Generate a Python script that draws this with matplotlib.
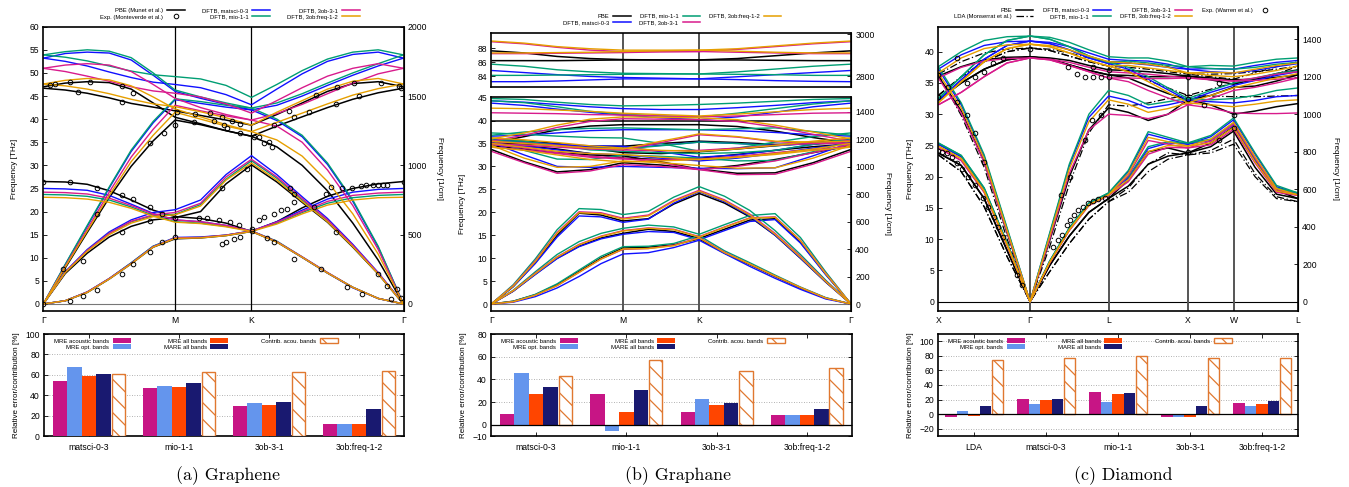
import numpy as np
import matplotlib
matplotlib.use("Agg")
import matplotlib.pyplot as plt
from matplotlib.lines import Line2D
from matplotlib.patches import Patch

plt.rcParams['font.family'] = ['Liberation Sans', 'DejaVu Sans']
plt.rcParams['hatch.linewidth'] = 0.9

W, H = 1349, 487
fig = plt.figure(figsize=(W / 100, H / 100), dpi=100)


def rect(x0, y0, x1, y1):
    """pixel box (left, top, right, bottom) -> figure fraction rect"""
    return [x0 / W, 1 - y1 / H, (x1 - x0) / W, (y1 - y0) / H]


def fx(x):
    return x / W


def fy(y):
    return 1 - y / H


C_PBE = 'black'
C_MATSCI = '#1010ff'
C_MIO = '#009e73'
C_3OB = '#d81b8c'
C_FREQ = '#e69f00'
C_ACOU = '#c71585'
C_OPT = '#6495ed'
C_ALL = '#ff4500'
C_MARE = '#191970'
C_HATCH = '#e07830'
HATCH = '\\\\'
THZ2CM = 33.356
TICK_FS = 6.2
LEG_FS = 4.2

# ---------------------------------------------------------------- graphene
gr_nodes = [0.0, 0.366, 0.578, 1.0]
gr_labels = ['Γ', 'M', 'K', 'Γ']

gr_pbe = [
    [0, 0.7, 2.5, 5.4, 8.7, 12.3, 14.1, 14.3, 14.8, 15.7, 13.4, 10.1, 6.7, 3.6, 1.2, 0],
    [0, 6.6, 11.0, 14.5, 16.8, 18.2, 18.7, 20.0, 26.0, 30.1, 26.4, 22.0, 17.7, 12.3, 6.5, 0],
    [26.5, 26.4, 25.9, 24.5, 22.5, 20.3, 18.9, 18.5, 17.5, 15.7, 17.8, 20.8, 23.3, 25.0, 26.0, 26.5],
    [0, 7.8, 15.5, 23.0, 29.8, 35.3, 39.8, 38.8, 37.5, 36.3, 34.0, 30.0, 24.5, 17.5, 9.5, 0],
    [47.0, 47.8, 48.1, 47.9, 46.5, 43.5, 40.4, 39.0, 37.5, 36.3, 38.5, 40.5, 42.5, 44.3, 45.7, 46.7],
    [46.7, 46.3, 45.6, 44.6, 43.4, 42.6, 41.8, 40.8, 39.8, 38.7, 41.0, 43.5, 46.0, 47.7, 48.1, 47.0],
]
gr_matsci = [
    [0, 0.7, 2.6, 5.5, 8.9, 12.5, 14.4, 14.5, 14.9, 15.8, 13.5, 10.1, 6.7, 3.5, 1.2, 0],
    [0, 7.0, 11.8, 15.6, 18.2, 19.8, 20.4, 22.5, 28.0, 32.1, 28.0, 23.2, 18.5, 12.9, 6.8, 0],
    [25.0, 24.9, 24.6, 23.5, 21.6, 19.6, 18.2, 17.8, 17.0, 15.8, 17.8, 20.3, 22.7, 24.2, 24.8, 25.0],
    [0, 8.5, 16.8, 25.1, 33.0, 39.2, 44.2, 43.4, 42.6, 42.0, 39.7, 36.2, 30.2, 22.2, 12.3, 0],
    [53.2, 54.2, 54.5, 54.3, 52.8, 49.5, 46.0, 44.5, 43.2, 42.0, 43.0, 45.0, 47.3, 49.5, 51.5, 53.2],
    [53.2, 52.5, 51.5, 50.2, 49.0, 48.0, 47.5, 46.8, 45.3, 43.1, 46.5, 49.8, 52.5, 54.0, 54.5, 53.2],
]
gr_mio = [
    [0, 0.7, 2.6, 5.5, 8.9, 12.5, 14.3, 14.4, 14.9, 15.8, 13.6, 10.2, 6.8, 3.6, 1.2, 0],
    [0, 6.9, 11.6, 15.3, 17.8, 19.1, 19.4, 21.5, 27.0, 31.0, 27.2, 22.5, 18.0, 12.5, 6.6, 0],
    [23.7, 23.6, 23.3, 22.5, 21.0, 19.2, 17.8, 17.5, 16.8, 15.8, 17.5, 19.8, 21.8, 23.0, 23.5, 23.7],
    [0, 8.6, 17.0, 25.3, 33.3, 39.5, 44.4, 43.8, 43.0, 42.4, 40.0, 36.5, 30.5, 22.5, 12.5, 0],
    [53.9, 54.6, 55.0, 54.7, 53.3, 50.0, 46.3, 44.8, 43.5, 42.4, 43.5, 45.5, 47.8, 50.0, 52.0, 53.9],
    [53.9, 53.4, 52.6, 51.5, 50.4, 49.6, 49.2, 48.7, 47.3, 44.7, 47.5, 50.5, 53.0, 54.5, 55.0, 53.9],
]
gr_3ob = [
    [0, 0.7, 2.6, 5.5, 8.8, 12.4, 14.3, 14.4, 14.9, 15.8, 13.5, 10.2, 6.8, 3.6, 1.2, 0],
    [0, 6.9, 11.6, 15.3, 17.9, 19.3, 19.8, 21.8, 27.5, 31.3, 27.5, 22.8, 18.2, 12.7, 6.7, 0],
    [24.2, 24.1, 23.8, 22.9, 21.3, 19.5, 18.2, 17.8, 17.0, 15.8, 17.7, 20.0, 22.2, 23.5, 24.0, 24.2],
    [0, 8.2, 16.2, 24.2, 31.8, 37.8, 43.0, 41.8, 40.7, 39.8, 38.5, 35.0, 29.0, 21.3, 11.8, 0],
    [51.0, 51.7, 52.0, 51.7, 50.3, 47.5, 44.5, 42.5, 41.0, 39.8, 41.2, 43.2, 45.5, 47.8, 49.8, 51.0],
    [51.0, 50.3, 49.3, 48.2, 47.0, 46.1, 45.6, 44.8, 43.3, 41.3, 44.0, 46.8, 49.3, 51.0, 52.0, 51.0],
]
gr_freq = [
    [0, 0.7, 2.5, 5.4, 8.7, 12.3, 14.2, 14.3, 14.8, 15.7, 13.4, 10.1, 6.7, 3.6, 1.2, 0],
    [0, 6.8, 11.4, 15.0, 17.5, 18.9, 19.3, 21.2, 26.8, 30.5, 26.8, 22.2, 17.8, 12.4, 6.5, 0],
    [23.1, 23.0, 22.7, 22.0, 20.7, 19.0, 17.7, 17.4, 16.7, 15.7, 17.3, 19.5, 21.4, 22.5, 23.0, 23.1],
    [0, 8.0, 15.8, 23.5, 30.8, 36.5, 41.5, 40.0, 38.5, 37.3, 35.5, 32.0, 26.5, 19.5, 10.8, 0],
    [47.6, 48.4, 48.8, 48.5, 47.2, 44.8, 42.2, 40.5, 38.8, 37.3, 39.3, 41.3, 43.3, 45.2, 46.6, 47.6],
    [47.6, 47.2, 46.5, 45.5, 44.3, 43.3, 42.7, 41.6, 40.3, 38.7, 41.5, 44.0, 46.5, 48.2, 48.8, 47.6],
]
gr_exp_k = [0.019, 0.032, 0.074, 0.130, 0.218, 0.250, 0.097, 0.218, 0.297, 0.334,
            0.366, 0.371, 0.422, 0.417, 0.464, 0.473, 0.496, 0.501, 0.524, 0.547,
            0.547, 0.510, 0.584, 0.598, 0.612, 0.626, 0.635, 0.640, 0.682, 0.696,
            0.737, 0.756, 0.816, 0.863, 0.937, 0.993, 0.812, 0.877, 0.988,
            0.0, 0.074, 0.148, 0.218, 0.250, 0.297, 0.329, 0.366, 0.431, 0.455,
            0.487, 0.519, 0.543, 0.579, 0.496, 0.566, 0.598, 0.612, 0.640, 0.659,
            0.677, 0.686, 0.696, 0.696, 0.751, 0.784, 0.798, 0.830, 0.858, 0.881,
            0.895, 0.914, 0.928, 0.942, 0.955, 1.0,
            0.056, 0.111, 0.148, 0.218, 0.297, 0.366, 0.496, 0.506, 0.529, 0.547,
            0.579, 0.622, 0.640, 0.696, 0.812, 0.844, 0.886, 0.928, 0.955, 0.965,
            0.983, 0.993, 0.074, 0.111, 0.148, 0.218, 0.250, 0.297, 0.329, 0.0, 0.770]
gr_exp_f = [47.4, 47.6, 48.0, 48.1, 47.1, 45.6, 45.8, 43.8, 34.8, 36.9,
            38.7, 41.5, 41.1, 39.3, 41.3, 39.5, 40.5, 38.7, 39.5, 38.9,
            37.1, 38.0, 36.2, 36.2, 34.8, 35.1, 34.0, 38.7, 41.8, 40.5,
            41.5, 45.3, 46.9, 47.9, 47.9, 46.7, 43.3, 45.1, 47.2,
            26.4, 26.4, 25.0, 23.5, 22.7, 21.0, 19.5, 18.6, 18.6, 18.5,
            18.2, 17.7, 17.0, 16.3, 25.0, 29.3, 18.1, 18.8, 19.5, 20.3,
            20.6, 25.0, 23.9, 22.1, 21.0, 23.9, 25.3, 25.1, 25.1, 25.5,
            25.7, 25.7, 25.7, 25.7, 25.7, 26.4,
            7.6, 9.4, 19.5, 15.6, 18.0, 14.5, 13.0, 13.5, 14.1, 14.5,
            15.7, 14.3, 13.4, 9.8, 15.6, 3.6, 2.2, 6.5, 4.0, 1.1,
            3.3, 1.4, 0.7, 1.8, 3.1, 6.5, 8.7, 11.2, 13.4, 0.0, 7.6]

# ---------------------------------------------------------------- graphane
ga_nodes = [0.0, 0.366, 0.578, 1.0]
ga_labels = ['Γ', 'M', 'K', 'Γ']

# acoustic branches (fine grid)
ga_pbe_ac = [
    [0, 0.6, 2.0, 4.2, 7.1, 10.0, 12.2, 12.4, 12.9, 14.2, 11.1, 8.6, 6.0, 3.5, 1.3, 0],
    [0, 2.8, 6.5, 10.0, 12.6, 14.4, 15.4, 16.3, 15.8, 14.3, 16.3, 18.3, 18.6, 13.5, 6.5, 0],
    [0, 3.8, 9.0, 15.0, 19.8, 19.4, 18.1, 18.6, 21.8, 24.1, 22.0, 19.0, 15.0, 10.0, 4.8, 0],
]
ga_matsci_ac = [
    [0, 0.4, 1.6, 3.5, 6.0, 8.8, 10.9, 11.2, 12.3, 13.9, 11.0, 8.2, 5.6, 3.2, 1.1, 0],
    [0, 2.8, 6.4, 9.9, 12.5, 14.2, 15.2, 15.8, 15.6, 14.0, 16.0, 18.0, 18.4, 13.3, 6.4, 0],
    [0, 3.8, 8.8, 14.6, 19.2, 19.0, 17.8, 18.5, 22.0, 24.5, 22.3, 19.2, 15.0, 10.0, 4.8, 0],
]
ga_mio_ac = [
    [0, 0.6, 2.1, 4.4, 7.4, 10.4, 12.5, 12.6, 13.2, 14.9, 11.6, 9.0, 6.3, 3.7, 1.4, 0],
    [0, 3.0, 7.0, 10.8, 13.6, 15.4, 16.5, 17.2, 16.8, 15.2, 17.3, 19.3, 19.7, 14.5, 7.0, 0],
    [0, 4.2, 9.8, 16.2, 20.8, 20.6, 19.5, 20.2, 23.3, 25.6, 23.5, 20.4, 16.0, 10.8, 5.2, 0],
]
ga_3ob_ac = [
    [0, 0.5, 1.9, 4.0, 6.9, 9.8, 11.9, 12.1, 12.8, 14.5, 11.3, 8.7, 6.1, 3.6, 1.3, 0],
    [0, 2.9, 6.7, 10.3, 13.0, 14.8, 16.0, 16.6, 16.3, 14.7, 16.8, 18.8, 19.0, 13.9, 6.7, 0],
    [0, 4.0, 9.4, 15.6, 20.1, 19.9, 18.7, 19.4, 22.6, 24.8, 22.7, 19.6, 15.4, 10.4, 5.0, 0],
]
ga_freq_ac = [
    [0, 0.5, 1.9, 4.0, 6.9, 9.8, 12.0, 12.1, 12.7, 14.4, 11.2, 8.7, 6.1, 3.6, 1.3, 0],
    [0, 2.9, 6.6, 10.2, 12.9, 14.7, 15.9, 16.5, 16.2, 14.6, 16.7, 18.7, 18.9, 13.8, 6.6, 0],
    [0, 3.9, 9.2, 15.4, 19.9, 19.7, 18.5, 19.2, 22.4, 24.6, 22.5, 19.4, 15.2, 10.2, 4.9, 0],
]
# optical branches (coarse grid)
ga_pbe_op = [
    [39.8, 39.8, 39.8, 39.8, 39.8, 39.8, 39.8, 39.8, 39.8, 39.8, 39.8],
    [35.1, 36.5, 38.0, 38.8, 39.1, 39.1, 39.1, 38.7, 37.7, 36.3, 35.1],
    [35.2, 34.9, 34.6, 34.4, 34.4, 35.0, 35.5, 35.2, 34.8, 34.9, 35.2],
    [34.5, 33.8, 33.0, 32.5, 32.3, 31.0, 29.4, 30.2, 31.5, 33.0, 34.5],
    [33.7, 31.0, 28.8, 29.3, 30.8, 30.3, 29.4, 28.5, 28.6, 30.8, 33.7],
    [35.8, 35.5, 35.0, 34.0, 33.0, 32.8, 33.2, 33.8, 34.5, 35.2, 35.8],
    [34.9, 34.5, 33.8, 32.8, 31.8, 31.5, 31.8, 32.6, 33.5, 34.3, 34.9],
    [87.6, 87.3, 86.8, 86.5, 86.35, 86.3, 86.3, 86.5, 86.9, 87.3, 87.6],
    [86.2, 86.2, 86.2, 86.25, 86.3, 86.3, 86.3, 86.3, 86.25, 86.2, 86.2],
]
ga_matsci_op = [
    [44.3, 44.0, 43.5, 43.0, 42.6, 42.4, 42.4, 42.8, 43.3, 43.9, 44.3],
    [43.8, 43.3, 42.5, 41.8, 41.2, 40.6, 40.2, 40.8, 41.8, 43.0, 43.8],
    [36.6, 36.8, 37.3, 37.8, 38.0, 38.0, 38.0, 37.8, 37.4, 36.9, 36.6],
    [36.0, 35.3, 34.8, 34.5, 34.4, 33.2, 32.0, 32.5, 33.5, 34.8, 36.0],
    [35.2, 32.5, 30.0, 29.8, 30.0, 29.8, 29.6, 29.5, 29.7, 32.3, 35.2],
    [35.6, 35.3, 34.8, 34.2, 34.0, 34.6, 35.3, 35.0, 34.6, 35.0, 35.6],
    [35.0, 34.4, 33.6, 32.8, 32.5, 31.8, 31.2, 31.8, 32.8, 34.0, 35.0],
    [84.8, 84.5, 84.2, 83.95, 83.8, 83.7, 83.6, 83.9, 84.2, 84.5, 84.8],
    [83.2, 83.2, 83.3, 83.45, 83.6, 83.6, 83.6, 83.5, 83.35, 83.25, 83.2],
]
ga_mio_op = [
    [44.8, 44.6, 44.0, 43.5, 43.2, 43.3, 43.5, 43.8, 44.2, 44.6, 44.8],
    [44.3, 43.9, 43.0, 42.0, 41.4, 41.0, 40.8, 41.6, 42.6, 43.6, 44.3],
    [37.3, 37.0, 36.6, 36.3, 36.2, 35.0, 33.3, 34.0, 35.3, 36.5, 37.3],
    [36.2, 35.5, 34.6, 33.6, 33.3, 33.0, 32.8, 33.0, 33.5, 34.8, 36.2],
    [35.5, 33.5, 31.6, 31.5, 32.5, 32.2, 31.8, 31.2, 31.3, 33.2, 35.5],
    [36.8, 37.5, 38.0, 38.3, 38.4, 38.2, 38.0, 38.2, 38.4, 37.6, 36.8],
    [35.8, 35.2, 34.5, 34.0, 33.8, 34.5, 35.3, 35.0, 34.5, 35.0, 35.8],
    [85.7, 85.4, 84.9, 84.6, 84.4, 84.35, 84.3, 84.6, 85.0, 85.4, 85.7],
    [84.1, 84.1, 84.15, 84.2, 84.25, 84.3, 84.3, 84.25, 84.2, 84.1, 84.1],
]
ga_3ob_op = [
    [41.7, 41.6, 41.5, 41.3, 41.2, 41.0, 40.8, 41.0, 41.3, 41.6, 41.7],
    [35.5, 36.8, 38.5, 39.8, 40.4, 40.3, 40.2, 39.8, 38.6, 37.0, 35.5],
    [35.0, 34.6, 34.2, 33.8, 33.6, 35.2, 36.9, 36.4, 35.4, 35.0, 35.0],
    [34.8, 34.0, 33.0, 32.2, 31.8, 30.8, 29.3, 30.0, 31.2, 33.0, 34.8],
    [33.3, 30.8, 28.5, 29.0, 30.4, 30.0, 29.3, 28.2, 28.3, 30.5, 33.3],
    [35.4, 35.1, 34.6, 34.0, 33.6, 33.4, 33.5, 34.0, 34.6, 35.0, 35.4],
    [34.2, 33.6, 32.8, 32.0, 31.6, 31.4, 31.6, 32.2, 33.0, 33.7, 34.2],
    [88.9, 88.6, 88.1, 87.7, 87.5, 87.5, 87.5, 87.8, 88.2, 88.6, 88.9],
    [87.2, 87.2, 87.25, 87.3, 87.35, 87.45, 87.5, 87.4, 87.3, 87.2, 87.2],
]
ga_freq_op = [
    [42.7, 42.6, 42.3, 42.0, 41.6, 41.3, 41.0, 41.4, 41.9, 42.4, 42.7],
    [36.0, 37.3, 39.0, 40.3, 40.8, 40.7, 40.6, 40.2, 39.0, 37.5, 36.0],
    [35.5, 35.0, 34.5, 34.0, 33.8, 35.5, 37.1, 36.5, 35.5, 35.3, 35.5],
    [35.0, 34.2, 33.3, 32.8, 32.6, 32.0, 31.5, 32.0, 32.8, 33.8, 35.0],
    [34.6, 31.8, 29.8, 30.0, 31.2, 30.8, 30.2, 29.6, 29.7, 31.8, 34.6],
    [36.2, 35.8, 35.2, 34.5, 34.0, 33.5, 33.3, 33.8, 34.6, 35.5, 36.2],
    [34.2, 33.5, 32.5, 31.5, 31.0, 31.2, 31.5, 32.0, 32.6, 33.5, 34.2],
    [89.0, 88.7, 88.2, 87.9, 87.7, 87.7, 87.7, 87.9, 88.3, 88.7, 89.0],
    [87.3, 87.3, 87.35, 87.4, 87.5, 87.6, 87.7, 87.55, 87.4, 87.3, 87.3],
]

# ---------------------------------------------------------------- diamond
di_nodes = [0.0, 1.0, 1.855, 2.72, 3.218, 3.92]
di_labels = ['X', 'Γ', 'L', 'X', 'W', 'L']

di_pbe = [
    [23.8, 21.8, 16.5, 8.2, 0, 5.8, 10.5, 14.3, 16.5, 19.5, 24.0, 24.6, 23.8, 25.4, 28.0, 22.5, 17.8, 16.5],
    [23.8, 21.8, 16.5, 8.2, 0, 5.8, 10.5, 14.3, 16.5, 18.5, 22.0, 23.3, 23.8, 24.8, 27.3, 21.5, 17.2, 16.5],
    [36.1, 30.5, 22.4, 11.0, 0, 9.8, 20.0, 27.5, 31.0, 30.3, 29.0, 30.0, 32.3, 31.5, 30.0, 30.5, 31.2, 31.7],
    [32.3, 35.0, 37.2, 38.7, 39.2, 38.8, 37.9, 37.0, 36.3, 35.8, 34.5, 33.3, 32.3, 33.0, 34.3, 34.5, 35.3, 36.3],
    [36.1, 37.6, 38.7, 39.1, 39.2, 39.0, 38.6, 37.8, 37.1, 37.0, 36.8, 36.5, 36.1, 35.5, 34.8, 35.6, 36.5, 37.1],
    [32.3, 35.0, 37.2, 38.7, 39.2, 38.8, 37.9, 37.0, 36.3, 36.2, 36.0, 36.0, 36.1, 35.8, 35.5, 35.6, 35.9, 36.3],
]
di_lda = [
    [23.5, 20.8, 15.2, 7.2, 0, 4.8, 9.3, 13.2, 16.0, 18.2, 22.0, 23.8, 23.5, 24.2, 26.0, 20.5, 16.8, 16.0],
    [23.5, 20.8, 15.2, 7.2, 0, 4.8, 9.3, 13.2, 16.0, 17.5, 20.8, 22.8, 23.5, 23.8, 25.2, 20.0, 16.5, 16.0],
    [36.4, 29.8, 21.5, 10.0, 0, 8.8, 18.8, 27.0, 31.5, 31.3, 31.8, 32.5, 33.0, 32.9, 32.8, 32.8, 32.9, 33.0],
    [33.0, 36.0, 38.4, 40.0, 40.6, 40.2, 39.3, 38.4, 37.7, 36.8, 35.4, 34.2, 33.0, 34.0, 35.0, 35.4, 36.4, 37.7],
    [36.4, 38.4, 39.8, 40.4, 40.6, 40.4, 39.8, 39.0, 38.4, 38.2, 38.0, 37.6, 36.4, 36.0, 35.6, 36.6, 37.6, 38.4],
    [33.0, 36.0, 38.4, 40.0, 40.6, 40.2, 39.3, 38.4, 37.7, 37.5, 37.2, 36.8, 36.4, 36.4, 36.5, 36.8, 37.2, 37.7],
]
di_matsci = [
    [25.2, 23.2, 18.0, 9.3, 0, 6.4, 11.7, 15.7, 17.3, 20.8, 26.8, 26.0, 25.2, 26.4, 29.1, 23.6, 18.4, 17.3],
    [25.2, 23.2, 18.0, 9.3, 0, 6.4, 11.7, 15.7, 17.3, 19.8, 24.5, 25.4, 25.2, 25.8, 28.3, 22.8, 18.0, 17.3],
    [37.2, 31.5, 23.2, 11.6, 0, 10.8, 21.7, 29.5, 32.9, 32.2, 31.0, 31.5, 32.2, 32.0, 31.8, 32.2, 32.8, 33.0],
    [32.2, 35.5, 38.8, 41.0, 41.7, 41.3, 40.3, 39.0, 38.1, 37.2, 35.6, 33.9, 32.2, 33.5, 34.6, 35.4, 36.2, 36.8],
    [37.2, 39.5, 41.0, 41.6, 41.7, 41.5, 40.8, 39.8, 38.8, 38.6, 38.5, 38.0, 37.2, 37.3, 37.2, 37.8, 38.3, 38.6],
    [32.2, 35.5, 38.8, 41.0, 41.7, 41.3, 40.3, 39.0, 38.1, 38.2, 37.9, 37.5, 37.2, 36.8, 36.6, 37.0, 37.6, 38.1],
]
di_mio = [
    [25.4, 23.4, 18.2, 9.4, 0, 6.5, 11.8, 15.8, 17.4, 21.0, 27.2, 26.3, 25.4, 26.6, 29.4, 23.8, 18.6, 17.4],
    [25.4, 23.4, 18.2, 9.4, 0, 6.5, 11.8, 15.8, 17.4, 20.0, 24.8, 25.6, 25.4, 26.0, 28.6, 23.0, 18.2, 17.4],
    [37.6, 31.8, 23.5, 11.8, 0, 11.0, 22.0, 30.0, 33.8, 33.0, 31.5, 32.0, 32.5, 32.3, 32.5, 33.0, 33.8, 34.2],
    [32.5, 36.0, 39.5, 41.8, 42.5, 42.0, 40.8, 39.3, 38.3, 37.5, 36.0, 34.2, 32.5, 33.8, 35.0, 35.8, 36.5, 37.0],
    [37.6, 40.0, 41.8, 42.4, 42.5, 42.3, 41.5, 40.3, 39.2, 39.0, 39.0, 38.5, 37.6, 37.8, 37.7, 38.3, 38.8, 39.0],
    [32.5, 36.0, 39.5, 41.8, 42.5, 42.0, 40.8, 39.3, 38.3, 38.5, 38.2, 37.8, 37.6, 37.3, 37.2, 37.5, 38.0, 38.3],
]
di_3ob = [
    [24.6, 22.6, 17.5, 9.0, 0, 6.2, 11.4, 15.4, 17.0, 20.2, 25.8, 25.2, 24.6, 25.7, 28.4, 23.0, 17.9, 17.0],
    [24.6, 22.6, 17.5, 9.0, 0, 6.2, 11.4, 15.4, 17.0, 19.2, 23.6, 24.7, 24.6, 25.1, 27.6, 22.2, 17.5, 17.0],
    [35.8, 30.2, 22.3, 11.1, 0, 10.0, 20.5, 27.5, 30.0, 29.8, 29.3, 30.0, 31.5, 31.0, 30.2, 30.1, 30.1, 30.2],
    [31.5, 33.5, 36.0, 38.2, 39.0, 38.7, 37.8, 36.8, 35.8, 35.2, 33.8, 32.6, 31.5, 32.5, 33.8, 34.3, 35.0, 35.8],
    [35.8, 37.5, 38.5, 38.9, 39.0, 38.8, 38.3, 37.5, 36.8, 36.6, 36.4, 36.1, 35.8, 35.6, 35.3, 35.8, 36.4, 36.8],
    [31.5, 33.5, 36.0, 38.2, 39.0, 38.7, 37.8, 36.8, 35.8, 35.8, 35.7, 35.7, 35.8, 35.5, 35.3, 35.4, 35.6, 35.8],
]
di_freq = [
    [24.9, 22.9, 17.7, 9.1, 0, 6.3, 11.5, 15.5, 17.1, 20.5, 26.3, 25.6, 24.9, 26.0, 28.7, 23.2, 18.1, 17.1],
    [24.9, 22.9, 17.7, 9.1, 0, 6.3, 11.5, 15.5, 17.1, 19.5, 24.0, 25.0, 24.9, 25.4, 27.9, 22.4, 17.7, 17.1],
    [36.6, 31.0, 22.9, 11.4, 0, 10.5, 21.2, 28.8, 32.3, 31.6, 30.3, 30.9, 31.8, 31.5, 31.2, 31.6, 32.1, 32.3],
    [31.8, 35.2, 38.4, 40.5, 41.2, 40.8, 39.8, 38.6, 37.7, 36.8, 35.2, 33.5, 31.8, 33.0, 34.2, 35.0, 35.8, 36.5],
    [36.6, 39.0, 40.5, 41.1, 41.2, 41.0, 40.3, 39.3, 38.4, 38.2, 38.0, 37.5, 36.6, 36.7, 36.6, 37.2, 37.8, 38.2],
    [31.8, 35.2, 38.4, 40.5, 41.2, 40.8, 39.8, 38.6, 37.7, 37.8, 37.4, 37.0, 36.6, 36.2, 36.0, 36.4, 37.0, 37.7],
]
di_exp_k = [0.0, 0.0, 0.109, 0.2, 0.309, 0.4, 0.502, 0.6, 0.709, 1.0,
            1.418, 1.509, 1.6, 1.691, 1.771, 1.684, 1.855, 1.855, 2.72, 2.72,
            2.891, 3.055, 3.218,
            0.2, 0.309, 0.4, 0.502,
            0.0, 0.036, 0.091, 0.145, 0.2, 0.255, 0.327, 0.4, 0.491, 0.545,
            0.611, 0.655, 0.709, 0.855, 0.909,
            1.338, 1.436, 1.6, 1.673, 1.771,
            1.255, 1.309, 1.345, 1.4, 1.436, 1.484, 1.527, 1.582, 1.636, 1.691,
            1.745, 1.818, 2.72, 3.218, 3.055]
di_exp_f = [36.2, 32.8, 34.4, 39.0, 35.0, 36.0, 36.8, 38.2, 39.0, 40.4,
            37.6, 36.4, 36.0, 35.9, 35.9, 37.5, 37.1, 36.0, 36.0, 32.5,
            31.5, 35.0, 29.9,
            32.0, 29.9, 27.0, 22.4,
            24.1, 24.0, 23.8, 23.2, 22.2, 21.3, 20.0, 18.7, 16.6, 15.2,
            13.6, 12.0, 10.4, 4.3, 2.7,
            17.0, 19.9, 25.9, 29.1, 29.9,
            8.7, 9.9, 10.7, 12.3, 13.1, 13.9, 14.7, 15.2, 15.8, 16.1,
            16.4, 16.6, 24.0, 27.8, 25.9]

# ---------------------------------------------------------------- error bars
gr_cats = ['matsci-0-3', 'mio-1-1', '3ob-3-1', '3ob:freq-1-2']
gr_mre_acou = [54.1, 47.5, 29.8, 11.8]
gr_mre_opt = [67.2, 48.9, 32.1, 11.5]
gr_mre_all = [59.0, 47.9, 30.5, 11.8]
gr_mare_all = [61.0, 51.5, 33.8, 26.6]
gr_contrib = [61.0, 63.0, 62.6, 63.3]

ga_cats = ['matsci-0-3', 'mio-1-1', '3ob-3-1', '3ob:freq-1-2']
ga_mre_acou = [9.1, 27.4, 11.5, 8.5]
ga_mre_opt = [45.6, -5.6, 22.9, 8.5]
ga_mre_all = [27.4, 11.5, 17.6, 8.5]
ga_mare_all = [32.9, 30.9, 18.8, 13.8]
ga_contrib = [42.9, 57.1, 47.4, 50.0]

di_cats = ['LDA', 'matsci-0-3', 'mio-1-1', '3ob-3-1', '3ob:freq-1-2']
di_mre_acou = [-4.5, 20.5, 30.9, -4.1, 15.5]
di_mre_opt = [4.5, 13.6, 17.3, -4.5, 11.4]
di_mre_all = [-3.2, 19.5, 28.2, -4.1, 14.5]
di_mare_all = [10.5, 20.9, 29.1, 11.4, 18.6]
di_contrib = [75.0, 77.7, 79.5, 76.4, 77.3]


# ---------------------------------------------------------------- helpers
def path_grid(nodes, counts):
    pts = [np.linspace(nodes[0], nodes[1], counts[0])]
    for i in range(1, len(nodes) - 1):
        pts.append(np.linspace(nodes[i], nodes[i + 1], counts[i])[1:])
    return np.concatenate(pts)


def draw_bands(ax, k, bands, color, lw=1.0, ls='-', z=2):
    for b in bands:
        ax.plot(k, b, color=color, lw=lw, ls=ls, zorder=z, solid_capstyle='butt')


def style_freq_axis(ax, nodes, ylim, yticks, vcolor, vlw, xlabels=None):
    ax.set_xlim(nodes[0], nodes[-1])
    ax.set_ylim(*ylim)
    ax.set_yticks(yticks)
    ax.tick_params(axis='y', direction='in', labelsize=TICK_FS, length=3, width=0.6, pad=3)
    for x in nodes[1:-1]:
        ax.axvline(x, color=vcolor, lw=vlw, zorder=1)
    if xlabels is None:
        ax.set_xticks([])
    else:
        ax.set_xticks(nodes)
        ax.set_xticklabels(xlabels, fontsize=TICK_FS)
        ax.tick_params(axis='x', length=0, pad=4)
    for s in ax.spines.values():
        s.set_linewidth(1.2)


def right_cm_axis(ax, ticks):
    sec = ax.secondary_yaxis('right', functions=(lambda f: f * THZ2CM, lambda c: c / THZ2CM))
    sec.set_yticks(ticks)
    sec.tick_params(direction='in', labelsize=TICK_FS, length=3, width=0.6, pad=3)
    return sec


def top_legend(handles, labels, cx, cy, ncol, colsp):
    fig.legend(handles, labels, loc='center', bbox_to_anchor=(fx(cx), fy(cy)),
               ncol=ncol, fontsize=LEG_FS, frameon=False, markerfirst=False,
               handlelength=3.0, handletextpad=0.7, columnspacing=colsp,
               labelspacing=0.25, borderpad=0, borderaxespad=0)


def bar_panel(box, cats, acou, opt, allb, mare, contrib, ylim, yticks, gridvals, zero, leg_cx):
    ax = fig.add_axes(rect(*box))
    x = np.arange(len(cats)) + 0.5
    w = 0.16
    ax.bar(x - 2 * w, acou, w, color=C_ACOU, zorder=3)
    ax.bar(x - w, opt, w, color=C_OPT, zorder=3)
    ax.bar(x, allb, w, color=C_ALL, zorder=3)
    ax.bar(x + w, mare, w, color=C_MARE, zorder=3)
    ax.bar(x + 2 * w + 0.005, contrib, w - 0.01, facecolor='white', edgecolor=C_HATCH,
           hatch=HATCH, lw=1.0, zorder=3)
    for g in gridvals:
        ax.axhline(g, color='#999999', lw=0.6, ls=(0, (1, 2)), zorder=1)
    if zero:
        ax.axhline(0, color='black', lw=0.9, zorder=4)
    ax.set_xlim(0, len(cats))
    ax.set_ylim(*ylim)
    ax.set_yticks(yticks)
    ax.set_xticks(x)
    ax.set_xticklabels(cats, fontsize=TICK_FS)
    ax.tick_params(axis='x', direction='in', length=3, width=0.6, pad=5, top=True)
    ax.tick_params(axis='y', direction='in', labelsize=TICK_FS, length=3, width=0.6, pad=3, right=True)
    for s in ax.spines.values():
        s.set_linewidth(1.2)
    handles = [Patch(facecolor=C_ACOU), Patch(facecolor=C_OPT), Patch(facecolor=C_ALL),
               Patch(facecolor=C_MARE),
               Patch(facecolor='white', edgecolor=C_HATCH, hatch=HATCH, lw=1.0)]
    labels = ['MRE acoustic bands', 'MRE opt. bands', 'MRE all bands', 'MARE all bands',
              'Contrib. acou. bands']
    ax.legend(handles, labels, loc='center', bbox_to_anchor=(fx(leg_cx), fy(344)),
              bbox_transform=fig.transFigure, ncol=3, fontsize=LEG_FS + 0.1,
              frameon=False, markerfirst=False, handlelength=3.0, handleheight=0.9,
              handletextpad=0.6, columnspacing=5.5, labelspacing=0.15,
              borderpad=0, borderaxespad=0)
    ax.set_ylabel('Relative error/contribution [%]', fontsize=5.8)
    return ax


def caption(text, cx):
    fig.text(fx(cx), fy(480), text, ha='center', va='baseline', fontsize=12.8,
             family=['cmr10', 'DejaVu Serif'])


# ---------------------------------------------------------------- (a) graphene
gr_k = path_grid(gr_nodes, [7, 4, 7])
ax = fig.add_axes(rect(43.3, 26.7, 403.5, 310.7))
ax.axhline(0, color='#777777', lw=0.8, zorder=1)
draw_bands(ax, gr_k, gr_pbe, C_PBE, lw=1.1)
draw_bands(ax, gr_k, gr_matsci, C_MATSCI)
draw_bands(ax, gr_k, gr_mio, C_MIO)
draw_bands(ax, gr_k, gr_3ob, C_3OB)
draw_bands(ax, gr_k, gr_freq, C_FREQ)
ax.plot(gr_exp_k, gr_exp_f, 'o', ms=3.3, mfc='none', mec='black', mew=0.7, zorder=6)
style_freq_axis(ax, gr_nodes, (-1.45, 60), np.arange(0, 61, 5), 'black', 0.9, gr_labels)
right_cm_axis(ax, [0, 500, 1000, 1500, 2000])
fig.text(fx(15), fy(168.7), 'Frequency [THz]', rotation=90, ha='center', va='center', fontsize=5.9)
fig.text(fx(440), fy(168.7), 'Frequency [1/cm]', rotation=-90, ha='center', va='center', fontsize=5.9)
h_line = lambda c: Line2D([], [], color=c, lw=1.1)
h_exp = Line2D([], [], ls='none', marker='o', ms=3.3, mfc='none', mec='black', mew=0.7)
top_legend([h_line(C_PBE), h_exp, h_line(C_MATSCI), h_line(C_MIO), h_line(C_3OB), h_line(C_FREQ)],
           ['PBE (Munet et al.)', 'Exp. (Monteverde et al.)', 'DFTB, matsci-0-3',
            'DFTB, mio-1-1', 'DFTB, 3ob-3-1', 'DFTB, 3ob:freq-1-2'], 230, 13.7, 3, 3.0)
bar_panel((44, 334, 404, 436), gr_cats, gr_mre_acou, gr_mre_opt, gr_mre_all, gr_mare_all,
          gr_contrib, (0, 100), np.arange(0, 101, 20), [20, 40, 60, 80], False, 196)
caption('(a) Graphene', 228)

# ---------------------------------------------------------------- (b) graphane
ga_kf = path_grid(ga_nodes, [7, 4, 7])
ga_kc = path_grid(ga_nodes, [5, 3, 5])
axu = fig.add_axes(rect(491.3, 33.3, 851, 87.3))
axl = fig.add_axes(rect(491.3, 96.7, 851, 310.7))
for a in (axu, axl):
    draw_bands(a, ga_kc, ga_pbe_op, C_PBE, lw=1.1)
    draw_bands(a, ga_kc, ga_matsci_op, C_MATSCI)
    draw_bands(a, ga_kc, ga_mio_op, C_MIO)
    draw_bands(a, ga_kc, ga_3ob_op, C_3OB)
    draw_bands(a, ga_kc, ga_freq_op, C_FREQ)
axl.axhline(0, color='#777777', lw=0.8, zorder=1)
draw_bands(axl, ga_kf, ga_pbe_ac, C_PBE, lw=1.1)
draw_bands(axl, ga_kf, ga_matsci_ac, C_MATSCI)
draw_bands(axl, ga_kf, ga_mio_ac, C_MIO)
draw_bands(axl, ga_kf, ga_3ob_ac, C_3OB)
draw_bands(axl, ga_kf, ga_freq_ac, C_FREQ)
style_freq_axis(axu, ga_nodes, (82.4, 90.1), [84, 86, 88], '#555555', 1.4, None)
style_freq_axis(axl, ga_nodes, (-1.46, 45.2), np.arange(0, 46, 5), '#555555', 1.4, ga_labels)
right_cm_axis(axu, [2800, 3000])
right_cm_axis(axl, np.arange(0, 1401, 200))
fig.text(fx(463), fy(203.7), 'Frequency [THz]', rotation=90, ha='center', va='center', fontsize=5.9)
fig.text(fx(888), fy(203.7), 'Frequency [1/cm]', rotation=-90, ha='center', va='center', fontsize=5.9)
top_legend([h_line(C_PBE), h_line(C_MATSCI), h_line(C_MIO), h_line(C_3OB), h_line(C_FREQ)],
           ['PBE', 'DFTB, matsci-0-3', 'DFTB, mio-1-1', 'DFTB, 3ob-3-1', 'DFTB, 3ob:freq-1-2'],
           672, 19.5, 3, 1.5)
bar_panel((491, 334, 852, 436), ga_cats, ga_mre_acou, ga_mre_opt, ga_mre_all, ga_mare_all,
          ga_contrib, (-10, 80), [-10, 0, 20, 40, 60, 80], [20, 40, 60], True, 643)
caption('(b) Graphane', 678)

# ---------------------------------------------------------------- (c) diamond
di_k = path_grid(di_nodes, [5, 5, 5, 3, 4])
ax = fig.add_axes(rect(938.3, 26.7, 1298, 310.7))
ax.axhline(0, color='black', lw=0.8, zorder=1)
draw_bands(ax, di_k, di_pbe, C_PBE, lw=1.1)
draw_bands(ax, di_k, di_lda, C_PBE, lw=0.9, ls=(0, (6, 2, 1, 2)))
draw_bands(ax, di_k, di_matsci, C_MATSCI)
draw_bands(ax, di_k, di_mio, C_MIO)
draw_bands(ax, di_k, di_3ob, C_3OB)
draw_bands(ax, di_k, di_freq, C_FREQ)
ax.plot(di_exp_k, di_exp_f, 'o', ms=3.3, mfc='none', mec='black', mew=0.7, zorder=6)
style_freq_axis(ax, di_nodes, (-1.44, 44), np.arange(0, 41, 5), '#555555', 1.4, di_labels)
right_cm_axis(ax, np.arange(0, 1401, 200))
fig.text(fx(911), fy(168.7), 'Frequency [THz]', rotation=90, ha='center', va='center', fontsize=5.9)
fig.text(fx(1336), fy(168.7), 'Frequency [1/cm]', rotation=-90, ha='center', va='center', fontsize=5.9)
h_lda = Line2D([], [], color='black', lw=0.9, ls=(0, (6, 2, 1, 2)))
top_legend([h_line(C_PBE), h_lda, h_line(C_MATSCI), h_line(C_MIO), h_line(C_3OB), h_line(C_FREQ), h_exp],
           ['PBE', 'LDA (Monserrat et al.)', 'DFTB, matsci-0-3', 'DFTB, mio-1-1',
            'DFTB, 3ob-3-1', 'DFTB, 3ob:freq-1-2', 'Exp. (Warren et al.)'], 1114, 13.3, 4, 1.6)
bar_panel((938, 334, 1298, 436), di_cats, di_mre_acou, di_mre_opt, di_mre_all, di_mare_all,
          di_contrib, (-30, 110), np.arange(-20, 101, 20), [-20, 20, 40, 60, 80, 100], True, 1090)
caption('(c) Diamond', 1123)

fig.savefig('out.png', dpi=100)
